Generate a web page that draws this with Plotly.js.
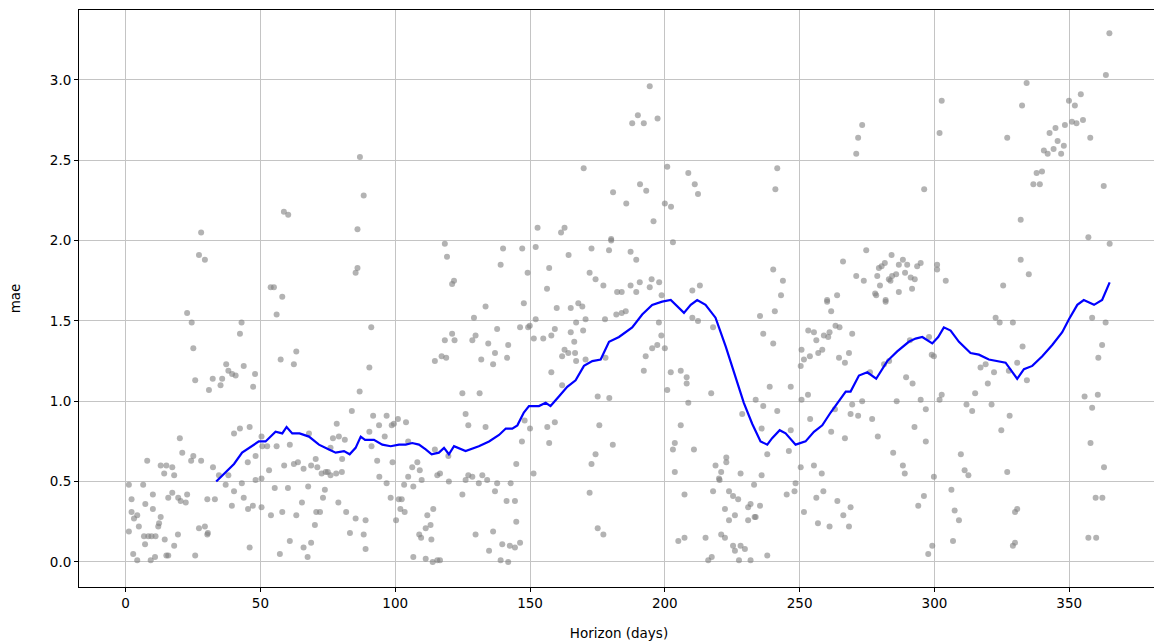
<!DOCTYPE html>
<html>
<head>
<meta charset="utf-8">
<script src="https://cdn.plot.ly/plotly-3.0.1.min.js"></script>
<style>
html,body{margin:0;padding:0;background:#fff;overflow:hidden;width:1154px;height:644px;}
#chart{width:1162px;height:644px;}
</style>
</head>
<body>
<div id="chart"></div>
<script>
// Scatter points: horizon (days) and MAE
const horizon = [
28.0,27.2,29.4,22.8,24.5,43.0,42.4,25.1,37.3,38.1,39.5,40.8,43.8,48.0,47.3,25.8,32.3,35.8,30.9,35.2,20.1,40.2,42.4,46.0,21.0,25.1,24.3,28.0,8.0,13.0,15.1,17.3,14.3,18.0,32.4,34.6,38.1,45.3,48.2,1.2,6.5,2.2,10.1,7.3,10.1,17.3,15.8,19.5,20.4,22.3,22.8,30.3,33.1,37.1,40.2,43.1,39.4,43.8,45.4,47.2,48.2,2.2,3.1,4.3,4.9,1.2,13.0,12.4,12.1,6.8,8.4,9.6,11.1,7.2,14.5,18.0,19.4,27.2,29.4,30.5,30.3,46.0,2.8,4.3,9.3,10.9,15.1,15.8,25.8,
86.9,88.3,58.7,60.3,86.0,86.0,85.3,53.8,55.0,58.1,
56.0,91.1,63.3,57.5,62.4,90.4,114.7,86.8,83.9,78.3,91.8,96.8,94.0,98.7,99.5,101.0,104.0,90.4,50.4,68.0,76.9,79.1,81.3,96.1,50.7,52.5,56.0,60.9,91.2,114.7,104.8,76.0,80.3,70.5,93.3,99.0,53.2,58.8,62.4,63.9,66.0,68.8,71.1,72.7,74.2,75.0,76.0,78.1,80.2,50.4,94.1,108.2,106.3,109.1,104.8,115.6,96.8,55.3,60.2,67.7,73.9,103.3,106.7,109.8,98.3,101.3,102.4,73.2,50.4,65.4,78.9,53.9,58.1,63.3,70.7,72.1,81.8,85.3,89.0,70.2,101.9,103.5,100.3,114.1,111.9,113.1,111.3,108.9,109.6,113.4,83.2,88.3,60.9,68.8,66.0,57.2,67.5,89.0,106.7,111.3,113.9,115.6,
169.9,180.8,152.8,162.8,161.5,180.1,180.1,118.4,119.2,140.0,147.1,152.1,164.3,172.8,179.3,139.1,149.1,157.1,172.1,174.3,177.2,182.3,121.8,121.1,156.3,
133.5,147.7,129.2,159.9,165.1,167.9,169.4,182.0,152.1,146.3,149.3,149.9,137.8,159.2,157.9,167.1,170.6,169.7,177.8,165.1,166.4,121.1,122.0,118.4,128.6,129.8,134.5,141.9,151.4,154.9,162.8,161.9,164.2,166.7,137.0,131.9,136.3,141.5,117.2,118.9,167.1,170.6,178.0,157.9,161.9,124.9,131.3,175.1,179.4,126.1,127.1,133.5,148.0,150.0,156.4,159.2,175.7,147.0,157.1,180.7,174.3,172.8,119.7,144.9,151.3,116.6,127.1,128.6,132.3,119.9,126.1,131.0,134.1,137.8,142.8,137.0,124.9,172.1,141.3,144.4,144.9,136.3,175.1,177.2,129.8,139.7,142.5,144.4,146.3,134.8,139.1,141.9,116.6,
194.4,190.0,187.9,192.2,197.3,200.9,208.7,190.8,193.1,211.1,212.3,241.7,241.0,185.7,200.0,202.3,195.8,203.0,187.3,189.4,240.2,243.8,243.1,187.3,190.7,195.1,197.9,189.4,194.4,184.0,198.8,210.2,213.0,
185.5,184.0,197.8,210.2,212.3,217.9,198.7,197.2,195.3,200.0,192.9,192.2,202.2,205.9,208.1,208.1,200.9,217.2,208.7,235.3,240.8,236.5,240.2,238.9,246.7,233.7,236.5,241.7,228.7,235.9,246.7,205.9,203.7,203.0,210.8,238.0,246.0,222.8,222.8,218.8,220.9,220.1,220.3,203.7,228.1,235.9,233.1,207.3,217.9,223.8,225.3,227.2,248.5,248.1,245.2,231.8,230.9,235.3,222.3,226.0,223.8,230.9,233.3,233.7,205.0,207.3,215.1,220.9,222.3,225.3,228.1,226.0,229.7,216.1,217.4,227.5,231.8,238.0,
302.7,301.9,273.2,271.7,271.0,296.2,274.7,284.1,266.1,288.3,294.9,293.6,286.8,289.9,281.6,280.4,279.4,301.0,301.0,271.0,273.8,278.8,285.8,284.3,283.1,283.7,289.1,291.2,292.7,304.2,279.8,278.0,278.4,286.8,291.7,263.9,260.2,281.9,
260.2,261.7,281.9,263.3,264.8,269.5,253.2,255.3,256.2,259.0,260.6,261.1,250.7,251.6,253.8,256.9,258.4,268.3,264.6,266.8,250.4,290.9,298.0,299.0,299.8,276.1,281.3,283.2,289.5,291.9,253.1,250.7,269.5,273.2,286.0,294.9,302.7,301.9,315.1,253.9,268.9,271.7,276.9,263.1,296.8,311.9,314.0,261.7,266.8,279.0,292.6,296.8,284.7,309.8,250.4,255.3,258.2,288.3,289.0,299.8,311.2,312.6,306.3,258.8,256.2,264.0,268.9,266.2,251.6,296.1,294.0,307.5,309.1,256.8,261.1,268.3,306.9,299.2,297.7,
364.9,363.6,334.2,354.3,349.9,352.1,332.5,351.0,352.7,355.1,348.4,344.9,342.7,327.0,357.8,345.7,348.0,340.6,342.0,344.2,347.0,337.9,339.9,336.7,339.1,362.8,332.0,357.1,365.0,332.0,335.0,325.5,
322.7,324.2,329.1,358.5,363.5,332.7,362.2,360.8,330.7,319.0,317.1,322.1,327.6,319.8,334.3,355.7,360.6,358.5,321.2,327.9,324.8,357.9,362.9,327.0,359.8,362.3,330.7,329.9,357.1,360.0,329.9,329.1
];
const mae = [
2.05,1.91,1.88,1.55,1.49,1.49,1.42,1.33,1.23,1.19,1.17,1.16,1.22,1.17,1.09,1.13,1.14,1.14,1.07,1.10,0.77,0.80,0.83,0.84,0.68,0.66,0.63,0.63,0.63,0.60,0.60,0.59,0.55,0.54,0.59,0.54,0.54,0.62,0.66,0.48,0.48,0.39,0.42,0.36,0.33,0.43,0.40,0.40,0.38,0.37,0.42,0.39,0.39,0.48,0.44,0.49,0.35,0.40,0.33,0.35,0.51,0.31,0.27,0.29,0.22,0.19,0.28,0.24,0.22,0.16,0.16,0.16,0.16,0.11,0.14,0.10,0.17,0.21,0.22,0.18,0.17,0.09,0.05,0.01,0.01,0.03,0.04,0.04,0.04,
2.52,2.28,2.18,2.16,2.07,1.83,1.80,1.71,1.71,1.65,
1.54,1.46,1.31,1.26,1.23,1.21,1.25,1.06,0.94,0.86,0.91,0.91,0.85,0.85,0.86,0.89,0.87,0.81,0.78,0.80,0.77,0.78,0.76,0.78,0.72,0.72,0.72,0.73,0.72,0.70,0.75,0.71,0.64,0.64,0.63,0.62,0.57,0.60,0.61,0.62,0.58,0.60,0.59,0.55,0.56,0.56,0.54,0.55,0.56,0.52,0.53,0.62,0.59,0.57,0.53,0.54,0.49,0.46,0.46,0.47,0.45,0.48,0.47,0.51,0.40,0.39,0.39,0.40,0.34,0.37,0.37,0.29,0.31,0.29,0.31,0.31,0.31,0.27,0.26,0.23,0.33,0.31,0.26,0.33,0.29,0.23,0.21,0.17,0.15,0.14,0.18,0.17,0.13,0.12,0.09,0.05,0.03,0.08,0.03,0.02,0.00,0.01,
2.45,2.30,2.08,2.08,2.05,2.01,2.00,1.98,1.90,1.95,1.95,1.96,1.91,1.95,1.94,1.85,1.80,1.83,1.80,1.76,1.72,1.68,1.75,1.73,1.70,
1.59,1.61,1.52,1.58,1.58,1.61,1.59,1.54,1.51,1.46,1.46,1.47,1.45,1.45,1.41,1.49,1.51,1.44,1.51,1.43,1.37,1.42,1.38,1.38,1.38,1.41,1.36,1.35,1.39,1.39,1.32,1.28,1.30,1.30,1.30,1.26,1.23,1.27,1.28,1.27,1.25,1.26,1.27,1.18,1.10,1.05,1.05,1.03,1.02,0.92,0.85,0.84,0.88,0.83,0.84,0.87,0.85,0.75,0.74,0.73,0.67,0.61,0.66,0.61,0.55,0.55,0.54,0.53,0.54,0.50,0.51,0.49,0.51,0.49,0.49,0.44,0.42,0.43,0.38,0.38,0.25,0.19,0.21,0.17,0.17,0.11,0.10,0.09,0.12,0.07,0.01,0.00,0.01,
2.96,2.78,2.73,2.73,2.76,2.46,2.42,2.35,2.31,2.35,2.29,2.45,2.32,2.23,2.23,2.21,2.12,1.99,1.93,1.88,1.82,1.75,1.66,1.72,1.74,1.76,1.74,1.68,1.71,1.68,1.66,1.69,1.72,
1.56,1.55,1.49,1.52,1.50,1.46,1.41,1.35,1.33,1.33,1.28,1.19,1.18,1.19,1.15,1.11,1.07,1.05,0.99,1.53,1.56,1.42,1.36,1.09,1.09,1.01,0.97,0.94,0.92,0.83,0.82,0.85,0.74,0.70,0.70,0.67,0.69,0.65,0.62,0.60,0.56,0.52,0.51,0.56,0.55,0.54,0.48,0.42,0.44,0.44,0.41,0.39,0.49,0.44,0.42,0.36,0.34,0.35,0.33,0.29,0.26,0.26,0.28,0.28,0.13,0.15,0.15,0.17,0.15,0.10,0.10,0.07,0.08,0.01,0.03,0.01,0.01,0.04,
2.87,2.67,2.72,2.64,2.54,2.32,1.94,1.91,1.87,1.88,1.86,1.84,1.85,1.85,1.86,1.84,1.83,1.85,1.82,1.78,1.75,1.78,1.79,1.78,1.76,1.75,1.80,1.77,1.76,1.75,1.72,1.67,1.66,1.68,1.70,1.66,1.63,1.63,
1.62,1.56,1.62,1.47,1.46,1.42,1.44,1.43,1.38,1.41,1.40,1.43,1.32,1.26,1.28,1.30,1.32,1.30,1.27,1.24,1.22,1.38,1.40,1.29,1.28,1.18,1.23,1.25,1.15,1.11,1.04,1.01,0.98,1.00,1.00,1.01,1.04,1.01,1.05,0.89,0.92,0.91,0.89,0.95,0.95,0.98,0.94,0.81,0.77,0.78,0.84,0.75,0.68,0.67,0.59,0.60,0.55,0.60,0.55,0.53,0.57,0.54,0.45,0.44,0.40,0.38,0.34,0.29,0.31,0.41,0.35,0.32,0.26,0.24,0.22,0.22,0.13,0.10,0.05,
3.29,3.03,2.98,2.91,2.87,2.84,2.84,2.74,2.73,2.75,2.72,2.70,2.67,2.64,2.64,2.62,2.59,2.56,2.54,2.57,2.54,2.42,2.43,2.35,2.35,2.34,2.13,2.02,1.98,1.88,1.79,1.72,
1.52,1.49,1.49,1.52,1.49,1.34,1.35,1.27,1.24,1.23,1.21,1.18,1.19,1.11,1.13,1.03,1.04,0.96,0.98,0.91,0.82,0.74,0.59,0.56,0.40,0.40,0.33,0.31,0.15,0.15,0.12,0.10
];

// Rolling mean line
const rollHorizon = [33.6,37.1,40.2,43.2,45.7,49.4,51.9,55.6,58.1,59.7,61.8,64.5,68.0,71.7,75.4,77.9,81.0,83.1,85.3,87.2,88.8,92.1,95.2,98.3,101.4,103.9,106.3,108.8,111.3,113.5,116.2,118.1,119.9,121.8,126.1,131.0,134.8,138.5,141.0,143.4,145.3,147.7,149.6,153.3,155.8,157.6,160.7,163.8,166.9,170.0,173.1,176.2,179.3,183.0,187.9,191.6,195.3,199.0,202.2,204.6,207.1,209.6,212.0,215.1,218.8,222.6,226.3,229.3,232.4,235.5,238.0,239.8,242.6,244.8,248.5,252.2,255.3,258.4,261.5,264.6,267.1,268.9,272.0,275.1,278.4,282.5,286.2,290.5,293.0,295.5,299.2,301.4,303.5,306.0,309.1,313.4,316.5,320.2,323.9,326.4,330.7,333.2,336.3,340.0,343.7,347.4,349.9,353.0,355.4,359.2,362.2,364.1,365.0];
const rollMae = [0.50,0.56,0.61,0.68,0.71,0.75,0.75,0.81,0.80,0.84,0.80,0.80,0.78,0.73,0.70,0.68,0.69,0.67,0.71,0.78,0.76,0.76,0.73,0.72,0.73,0.73,0.74,0.73,0.70,0.67,0.68,0.71,0.67,0.72,0.69,0.72,0.75,0.79,0.83,0.83,0.85,0.93,0.97,0.97,0.99,0.97,1.03,1.09,1.13,1.22,1.25,1.26,1.37,1.40,1.46,1.54,1.60,1.62,1.63,1.59,1.55,1.60,1.63,1.60,1.52,1.34,1.15,0.99,0.86,0.75,0.73,0.77,0.82,0.80,0.73,0.75,0.81,0.85,0.93,1.00,1.06,1.06,1.16,1.18,1.14,1.25,1.31,1.37,1.39,1.40,1.36,1.40,1.46,1.44,1.37,1.30,1.29,1.26,1.25,1.24,1.14,1.20,1.22,1.28,1.35,1.43,1.51,1.60,1.63,1.60,1.63,1.70,1.74];

const xTicks = [0,50,100,150,200,250,300,350];
const yTicks = [0.0,0.5,1.0,1.5,2.0,2.5,3.0];

const font = {family:'DejaVu Sans, sans-serif', size:13.5, color:'#000'};

const traces = [
  {x:horizon, y:mae, mode:'markers', type:'scatter',
   marker:{color:'rgba(128,128,128,0.6)', size:6, line:{width:0}}, hoverinfo:'skip', showlegend:false},
  {x:rollHorizon, y:rollMae, mode:'lines', type:'scatter',
   line:{color:'#0000ff', width:2.2}, hoverinfo:'skip', showlegend:false}
];

const layout = {
  width:1162, height:644,
  margin:{l:79, r:3, t:10, b:57, pad:0},
  paper_bgcolor:'#fff', plot_bgcolor:'#fff',
  font:font,
  showlegend:false,
  xaxis:{
    range:[-17.3, 383.3], tickvals:xTicks, ticktext:xTicks.map(String),
    showline:true, mirror:true, linecolor:'#000', linewidth:1,
    ticks:'outside', ticklen:4, tickwidth:1, tickcolor:'#000',
    showgrid:true, gridcolor:'#c4c4c4', gridwidth:1, zeroline:false,
    tickfont:font,
    title:{text:'Horizon (days)', font:font, standoff:18}
  },
  yaxis:{
    range:[-0.156, 3.435], tickvals:yTicks, ticktext:yTicks.map(v=>v.toFixed(1)),
    showline:true, mirror:true, linecolor:'#000', linewidth:1,
    ticks:'outside', ticklen:4, tickwidth:1, tickcolor:'#000',
    showgrid:true, gridcolor:'#c4c4c4', gridwidth:1, zeroline:false,
    tickfont:font,
    title:{text:'mae', font:font, standoff:26}
  }
};

Plotly.newPlot('chart', traces, layout, {staticPlot:true, displayModeBar:false});
</script>
</body>
</html>
